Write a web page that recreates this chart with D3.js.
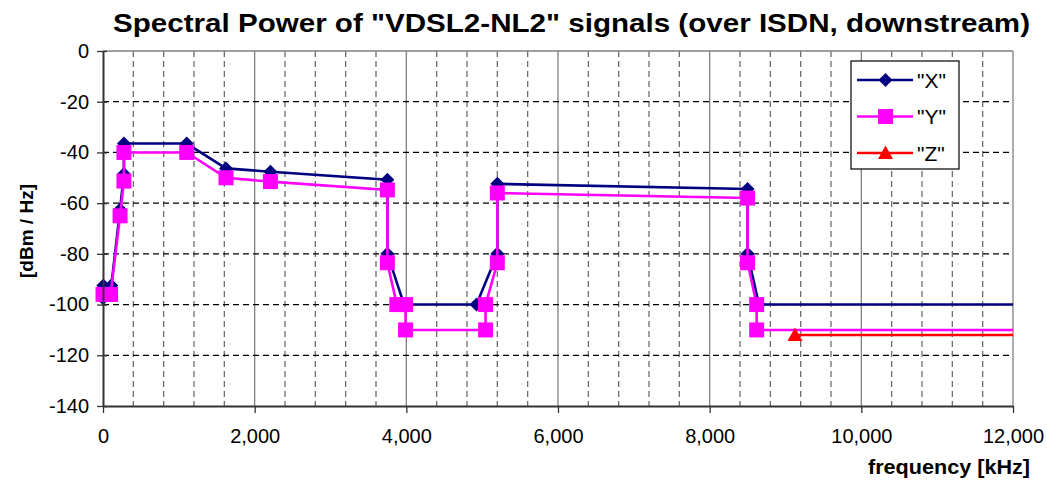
<!DOCTYPE html>
<html>
<head>
<meta charset="utf-8">
<script src="https://cdn.jsdelivr.net/npm/d3@7"></script>
<style>
  body { margin: 0; background: #fff; }
  svg { display: block; font-family: "Liberation Sans", Arial, sans-serif; }
</style>
</head>
<body>
<svg id="chart" width="1047" height="481"></svg>
<script>
// series "X" (navy, diamonds)
const freqX = [0, 4, 110, 225, 276, 276, 1104, 1622, 2208, 3750, 3750, 3970, 4925, 5200, 5200, 8500, 8500, 8650, 12000];
const psdX  = [-97.5, -92.5, -92.5, -62.5, -48.5, -36.5, -36.5, -46.3, -47.6, -50.8, -80, -100, -100, -80, -52.4, -54.4, -80, -100, -100];

// series "Y" (magenta, squares)
const freqY = [0, 100, 225, 276, 276, 1104, 1622, 2208, 3750, 3750, 3875, 3990, 3990, 5045, 5045, 5200, 5200, 8500, 8500, 8620, 8620, 12000];
const psdY  = [-96, -96, -65, -51.3, -40, -40, -50, -51.5, -54.8, -83.5, -100, -100, -110, -110, -100, -83.5, -56, -58, -83.5, -100, -110, -110];

// series "Z" (red, triangles)
const freqZ = [9125, 12000];
const psdZ  = [-112, -112];

const seriesNames = ['"X"', '"Y"', '"Z"'];
const seriesColors = ["#000080", "#ff00ff", "#ff0000"];

const xTicks = [0, 2000, 4000, 6000, 8000, 10000, 12000];
const yTicks = [0, -20, -40, -60, -80, -100, -120, -140];

const svg = d3.select("#chart");
const margin = {top: 51, right: 34, bottom: 75, left: 103};
const width = 1047 - margin.left - margin.right;
const height = 481 - margin.top - margin.bottom;

const x = d3.scaleLinear().domain([0, 12000]).range([margin.left, margin.left + width]);
const y = d3.scaleLinear().domain([-140, 0]).range([margin.top + height, margin.top]);

const plot = svg.append("g");

// minor vertical grid (every 400 kHz), dashed gray
const minor = d3.range(400, 12000, 400).filter(f => f % 2000 != 0);
plot.selectAll(".vminor")
  .data(minor)
  .enter().append("line")
  .attr("x1", d => x(d)).attr("x2", d => x(d))
  .attr("y1", y(0)).attr("y2", y(-140))
  .attr("stroke", "#6e6e6e")
  .attr("stroke-width", 1.3)
  .attr("stroke-dasharray", "6,4");

// major vertical grid, solid gray
plot.selectAll(".vmajor")
  .data(xTicks.slice(1))
  .enter().append("line")
  .attr("x1", d => x(d)).attr("x2", d => x(d))
  .attr("y1", y(0)).attr("y2", y(-140))
  .attr("stroke", "#808080")
  .attr("stroke-width", 1.3);

// horizontal grid, dashed dark
plot.selectAll(".hgrid")
  .data(yTicks.filter(v => v != 0 && v != -140))
  .enter().append("line")
  .attr("x1", x(0)).attr("x2", x(12000))
  .attr("y1", d => y(d)).attr("y2", d => y(d))
  .attr("stroke", "#000")
  .attr("stroke-width", 1.2)
  .attr("stroke-dasharray", "6,4");

// top border
plot.append("line")
  .attr("x1", x(0)).attr("x2", x(12000))
  .attr("y1", y(0)).attr("y2", y(0))
  .attr("stroke", "#808080").attr("stroke-width", 1.3);

// axes (plain hyphen for negatives, like the original)
const xAxis = svg.append("g")
  .attr("transform", `translate(0,${y(-140)})`)
  .call(d3.axisBottom(x).tickValues(xTicks).tickSize(7).tickSizeOuter(0).tickFormat(d3.format(",")));
const yAxis = svg.append("g")
  .attr("transform", `translate(${x(0)},0)`)
  .call(d3.axisLeft(y).tickValues(yTicks).tickSize(6).tickSizeOuter(0).tickFormat(d => String(d)));

[xAxis, yAxis].forEach(g => {
  g.select(".domain").attr("stroke", "#333").attr("stroke-width", 2);
  g.selectAll(".tick line").attr("stroke", "#333").attr("stroke-width", 1.3);
  g.selectAll(".tick text")
    .attr("fill", "#000")
    .attr("font-family", "Liberation Sans, Arial, sans-serif")
    .attr("font-size", 20);
});
xAxis.selectAll(".tick text").attr("y", 23);
yAxis.selectAll(".tick text").attr("x", -14);
// y ticks cross the axis a little
yAxis.selectAll(".tick line").attr("x1", 4);

// markers
function diamond(s) {
  return `M0,${-s}L${s},0L0,${s}L${-s},0Z`;
}
function square(s) {
  return `M${-s},${-s}H${s}V${s}H${-s}Z`;
}
function triangle(s) {
  return `M0,${-s}L${s},${s * 0.8}H${-s}Z`;
}
const markers = [diamond(7), square(7.5), triangle(7.5)];

const series = [
  freqX.map((f, i) => [f, psdX[i]]),
  freqY.map((f, i) => [f, psdY[i]]),
  freqZ.map((f, i) => [f, psdZ[i]])
];

const line = d3.line().x(d => x(d[0])).y(d => y(d[1]));

series.forEach((s, k) => {
  const g = plot.append("g");
  g.append("path")
    .attr("d", line(s))
    .attr("fill", "none")
    .attr("stroke", seriesColors[k])
    .attr("stroke-width", 2.6);
  // last point at the right edge carries no marker
  g.selectAll("path.m")
    .data(s.filter(d => d[0] < 12000))
    .enter().append("path")
    .attr("class", "m")
    .attr("transform", d => `translate(${x(d[0])},${y(d[1])})`)
    .attr("d", markers[k])
    .attr("fill", seriesColors[k]);
});

// legend
const legend = svg.append("g").attr("transform", "translate(851,61)");
legend.append("rect")
  .attr("width", 108).attr("height", 108)
  .attr("fill", "#fff").attr("stroke", "#000").attr("stroke-width", 1.2);
seriesNames.forEach((name, k) => {
  const ly = 19 + k * 36.5;
  legend.append("line")
    .attr("x1", 6).attr("x2", 62).attr("y1", ly).attr("y2", ly)
    .attr("stroke", seriesColors[k]).attr("stroke-width", 2.6);
  legend.append("path")
    .attr("transform", `translate(34.5,${ly})`)
    .attr("d", markers[k])
    .attr("fill", seriesColors[k]);
  legend.append("text")
    .attr("x", 66).attr("y", ly + 7.5)
    .attr("font-size", 21)
    .text(name);
});

// title and axis labels
svg.append("text")
  .attr("x", 113).attr("y", 31.5)
  .attr("font-size", 25)
  .attr("font-weight", "bold")
  .attr("textLength", 917)
  .attr("lengthAdjust", "spacingAndGlyphs")
  .text('Spectral Power of "VDSL2-NL2" signals (over ISDN, downstream)');

svg.append("text")
  .attr("transform", "translate(33,231) rotate(-90)")
  .attr("text-anchor", "middle")
  .attr("font-size", 19)
  .attr("font-weight", "bold")
  .text("[dBm / Hz]");

svg.append("text")
  .attr("x", 868).attr("y", 474)
  .attr("font-size", 20)
  .attr("font-weight", "bold")
  .attr("textLength", 162)
  .attr("lengthAdjust", "spacingAndGlyphs")
  .text("frequency [kHz]");
</script>
</body>
</html>
